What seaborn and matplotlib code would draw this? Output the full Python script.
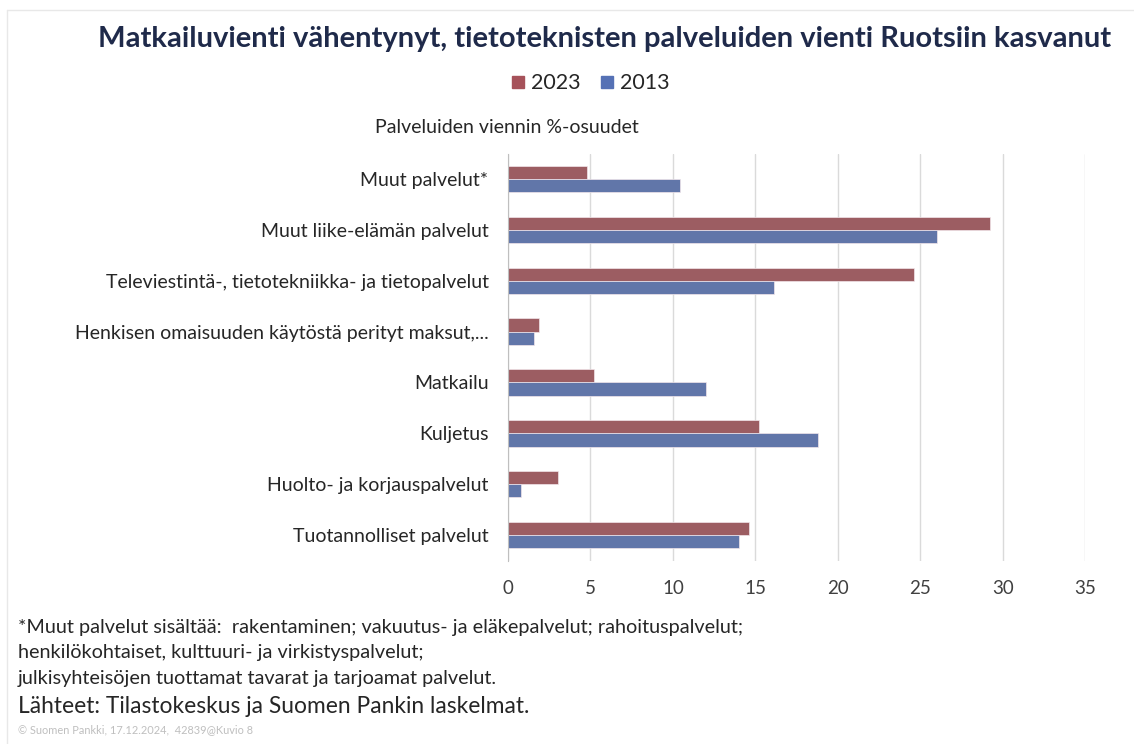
import pandas as pd
import seaborn as sns
import matplotlib.pyplot as plt
from matplotlib.lines import Line2D

categories = [
    "Muut palvelut*",
    "Muut liike-elämän palvelut",
    "Televiestintä-, tietotekniikka- ja tietopalvelut",
    "Henkisen omaisuuden käytöstä perityt maksut,...",
    "Matkailu",
    "Kuljetus",
    "Huolto- ja korjauspalvelut",
    "Tuotannolliset palvelut",
]
values_2023 = [4.8, 29.2, 24.6, 1.9, 5.2, 15.2, 3.0, 14.6]
values_2013 = [10.4, 26.0, 16.1, 1.6, 12.0, 18.8, 0.8, 14.0]
years = ["2023", "2013"]
colors = {"2023": "#A6525A", "2013": "#5571B5"}

df = pd.concat([
    pd.DataFrame({"Palvelu": categories, "Osuus": values_2023, "Vuosi": "2023"}),
    pd.DataFrame({"Palvelu": categories, "Osuus": values_2013, "Vuosi": "2013"}),
])

sns.set_style("white")
plt.rcParams["font.family"] = ["Lato", "DejaVu Sans"]

fig = plt.figure(figsize=(11.34, 7.44), dpi=100)
ax = fig.add_axes([0.448, 0.2466, 0.509, 0.547])

sns.barplot(
    data=df, x="Osuus", y="Palvelu", hue="Vuosi",
    order=categories, hue_order=years, palette=colors,
    orient="h", width=0.52, gap=0, dodge=True,
    edgecolor="#F2E6EA", linewidth=0.5, legend=False, ax=ax,
)

ax.set_xlim(0, 35)
ax.set_xticks(range(0, 36, 5))
ax.xaxis.grid(True, color="#DADADA", linewidth=1)
ax.set_axisbelow(True)
for side in ["top", "right", "bottom"]:
    ax.spines[side].set_visible(False)
ax.spines["left"].set_color("#BFBFBF")
ax.set_xlabel("")
ax.set_ylabel("")
ax.tick_params(axis="x", labelsize=13.5, colors="#404040", length=0, pad=14)
ax.tick_params(axis="y", labelsize=14, colors="#262626", length=0, pad=14)

# faint frame of the original slide
fig.add_artist(Line2D([0.006, 1.0], [0.987, 0.987], color="#E8E8E8", linewidth=1))
fig.add_artist(Line2D([0.006, 0.006], [0.0, 0.987], color="#E8E8E8", linewidth=1))

fig.text(0.533, 0.948, "Matkailuvienti vähentynyt, tietoteknisten palveluiden vienti Ruotsiin kasvanut",
         ha="center", va="center", fontsize=21, fontweight="bold", color="#1F2A4A")

handles = [Line2D([], [], marker="s", linestyle="", markersize=9, color=colors[y]) for y in years]
fig.legend(handles, years, loc="center", bbox_to_anchor=(0.518, 0.888), ncol=2,
           frameon=False, fontsize=15.5, handletextpad=0.0, columnspacing=0.6,
           handlelength=1.2, labelcolor="#262626")

fig.text(0.447, 0.828, "Palveluiden viennin %-osuudet", ha="center", va="center",
         fontsize=14, color="#262626")

notes = [
    "*Muut palvelut sisältää:  rakentaminen; vakuutus- ja eläkepalvelut; rahoituspalvelut;",
    "henkilökohtaiset, kulttuuri- ja virkistyspalvelut;",
    "julkisyhteisöjen tuottamat tavarat ja tarjoamat palvelut.",
]
for i, line in enumerate(notes):
    fig.text(0.016, 0.157 - i * 0.0345, line, ha="left", va="center", fontsize=14.3, color="#262626")
fig.text(0.016, 0.051, "Lähteet: Tilastokeskus ja Suomen Pankin laskelmat.", ha="left", va="center",
         fontsize=16.4, color="#262626")
fig.text(0.016, 0.019, "© Suomen Pankki, 17.12.2024,  42839@Kuvio 8", ha="left", va="center",
         fontsize=7.9, color="#BFBFBF")

fig.savefig("out.png", dpi=100)
plt.close(fig)
